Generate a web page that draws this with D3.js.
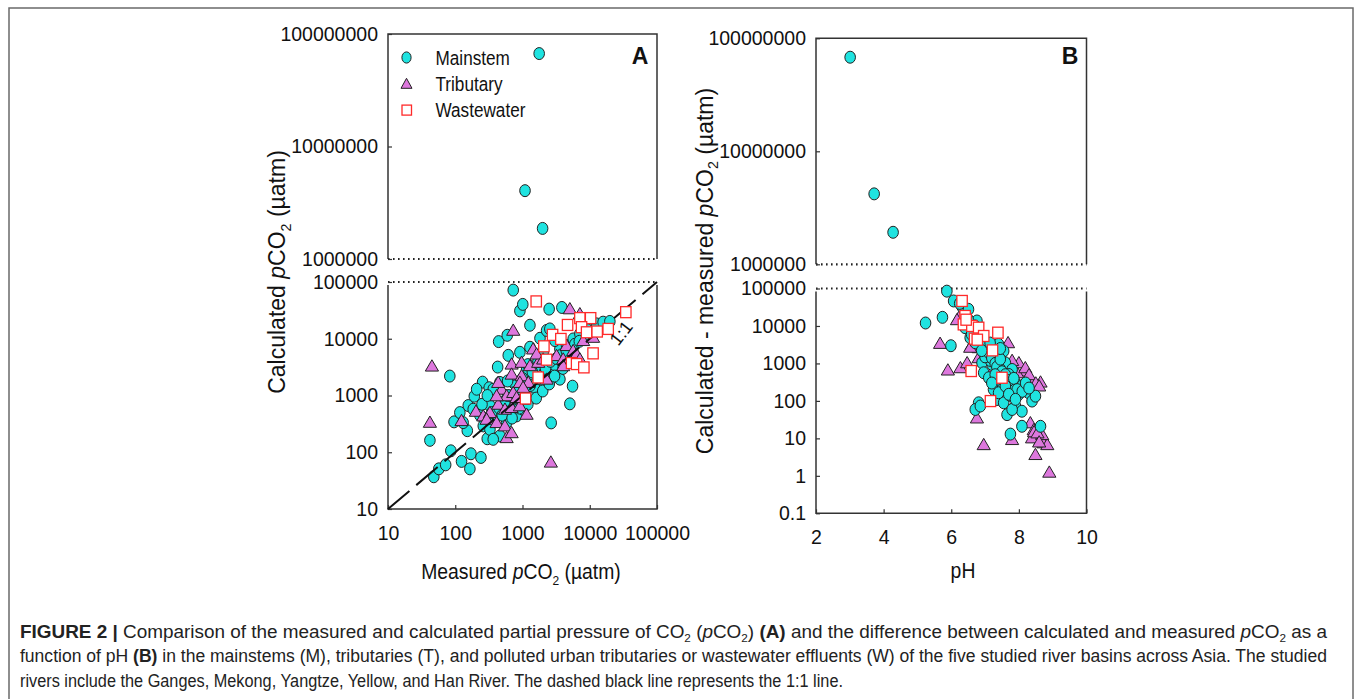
<!DOCTYPE html>
<html>
<head>
<meta charset="utf-8">
<script src="https://cdn.jsdelivr.net/npm/d3@7"></script>
<style>
  body { margin: 0; background: #fff; }
</style>
</head>
<body>
<svg id="fig" width="1357" height="699"></svg>
<script>
// ---- data ----
// panel A: [measured pCO2, calculated pCO2] in uatm
const mainA = [[42,162],[83,2200],[48,37],[57,51],[72,60],[86,106],[124,69],[165,51],[171,94],[241,81],[151,240],[96,343],[156,665],[192,972],[255,1720],[320,1370],[233,448],[299,173],[442,8910],[593,11500],[427,3170],[614,5100],[728,72000],[915,31000],[1010,40300],[1290,17300],[2490,33300],[3850,35600],[5550,1460],[5060,713],[2670,329],[915,5770],[1290,7080],[1820,10200],[2280,14000],[1150,2850],[461,1700],[367,1290],[328,658],[412,437],[581,333],[817,437],[1020,573],[581,752],[817,752],[1290,860],[1620,1130],[261,291],[328,253],[461,194],[367,169],[1150,2230],[1290,1940],[2550,2920],[3210,3350],[3600,6600],[4520,7580],[5670,9920],[7130,12200],[8970,14900],[12600,18300],[15800,19600],[19900,20200],[2550,14900],[3030,9290],[2030,5770],[728,1700],[915,1290],[185,573],[208,1290],[117,500],[3600,1940],[2280,2380],[1440,1130],[650,988],[131,333],[1820,1490],[700,600],[1100,1000],[1500,1400],[2000,2500],[3000,3500],[4000,4500],[5000,6000],[500,700],[400,520],
  [300,400],[350,500],[450,600],[550,800],[750,900],[850,1100],[950,1300],[1100,1600],[1300,1500],[1700,2000],[1900,2700],[2200,3000],[2600,4000],[3200,4500],[3800,5200],[4500,6000],[1400,2600],[1000,2000],[800,1500],[600,1000],[500,450],[700,400],[900,600],[1200,700],[1600,900],[2000,1200],[2500,1600],[3000,2200],[4000,3000],[6000,8000],[7000,9000],[9000,11000],[1700,4000],[1200,3500],[600,1800],[250,700],[300,1000],
  [1770,67000000],[1090,4050000],[1990,1870000]];
const tribA = [[45,3300],[42,337],[124,361],[728,14100],[2640,67],[203,527],[5060,33700],[7130,27500],[10000,22400],[689,3580],[970,3840],[1290,3350],[1710,3840],[689,2380],[970,2230],[1220,1700],[489,1290],[581,988],[728,1130],[1020,860],[435,701],[548,573],[689,614],[915,658],[1150,467],[261,437],[328,500],[293,381],[412,333],[548,291],[581,181],[689,221],[4520,7580],[5670,6180],[7980,9290],[11200,10600],[3210,5040],[4030,4390],[5060,3840],[1820,2230],[2280,1940],[4030,3350],[6370,5380],[7130,4390],[1440,6600],[1620,5380],[2030,4390],[915,1700],[1020,1390],[817,922],[412,988],[435,1700]];
const wasteA = [[1600,45500],[1110,885],[34400,29400],[7130,23100],[10300,23100],[4680,17500],[7550,16000],[8970,13000],[12900,13400],[18800,14900],[2800,11700],[3720,9920],[2080,7360],[11200,5530],[2280,4280],[5370,3730],[6370,3580],[8170,3130],[1710,2080]];

// panel B: [pH, calculated - measured pCO2]
const mainB = [[3.01,68000000],[3.72,4200000],[4.28,1920000],[5.24,12000],[5.74,17000],[5.99,2970],[5.87,85000],[6.07,46500],[6.32,32800],[6.51,27800],[6.41,9000],[6.61,8100],[6.76,13600],[6.91,5400],[6.56,4860],[6.71,3570],[7.01,2920],[7.21,2370],[7.40,3220],[7.06,1740],[7.30,1740],[7.55,2150],[6.91,1040],[7.21,940],[7.60,1040],[7.80,690],[6.96,564],[7.11,415],[7.40,374],[7.70,508],[7.90,305],[8.09,249],[8.29,165],[7.25,202],[7.50,202],[7.80,249],[7.99,148],[8.39,99],[8.49,134],[6.81,89],[6.71,59],[6.86,73],[7.35,109],[7.55,89],[7.65,43],[7.90,73],[8.09,53],[7.80,59],[8.09,21],[7.75,13],[8.64,21],[7.40,165],[7.16,1200],[7.45,700],[7.75,140],
  [7.0,1500],[7.1,2000],[7.2,1400],[7.3,1000],[7.35,800],[7.45,1300],[7.5,600],[7.6,500],[7.7,350],[7.85,400],[7.95,200],[8.1,180],[8.2,300],[8.3,220],[7.6,250],[7.7,150],[7.9,110],[7.45,2500],[7.15,3500],[6.9,2200],[6.6,6000],[6.7,10000],[6.5,15000],[6.25,40000],[7.3,500],[7.2,300]];
const tribB = [[5.67,3430],[5.90,667],[6.27,767],[6.47,1040],[6.22,16700],[7.68,3570],[6.61,3220],[6.81,2630],[6.81,1420],[8.14,627],[7.95,564],[8.39,338],[8.64,318],[6.76,35],[6.96,6.8],[7.80,9.3],[8.34,26],[8.44,17],[8.54,11.5],[8.64,9.3],[8.73,7.6],[8.84,6.8],[8.39,10.3],[8.69,12.6],[8.49,3.7],[8.90,1.25],[7.21,627],[8.00,1040],[8.19,767],[6.17,14700],[6.56,2700],[6.40,12000],
  [7.1,2000],[7.5,1500],[7.8,1200],[8.3,500],[8.5,300],[8.6,250],[8.45,15],[8.55,14],[8.6,8]];
const wasteB = [[6.32,46500],[6.41,18500],[6.36,11000],[6.61,10000],[6.81,9000],[6.69,4570],[7.38,6620],[7.22,2230],[6.59,627],[7.50,415],[7.16,99],[6.96,5400],[6.44,14700],[6.77,4300]];

const xTicksA = [10,100,1000,10000,100000];
const lowTicksA = [10,100,1000,10000,100000];
const highTicks = [1000000,10000000,100000000];
const xTicksB = [2,4,6,8,10];
const lowTicksB = [0.1,1,10,100,1000,10000,100000];
const legendLabels = ["Mainstem","Tributary","Wastewater"];

const captionLines = [
  [["FIGURE 2 | ","b"],["Comparison of the measured and calculated partial pressure of CO",""],["2","sub"],[" (",""],["p","i"],["CO",""],["2","sub"],[") ",""],["(A)","b"],[" and the difference between calculated and measured ",""],["p","i"],["CO",""],["2","sub"],[" as a",""]],
  [["function of pH ",""],["(B)","b"],[" in the mainstems (M), tributaries (T), and polluted urban tributaries or wastewater effluents (W) of the five studied river basins across Asia. The studied",""]],
  [["rivers include the Ganges, Mekong, Yangtze, Yellow, and Han River. The dashed black line represents the 1:1 line.",""]]
];

// ---- drawing ----
const font = '"Liberation Sans", Arial, Helvetica, sans-serif';
const colMain = "#1fe3e0", colTrib = "#dd77dd", colWaste = "#ff2a2a", ink = "#222";
const svg = d3.select("#fig");

svg.append("rect").attr("x", 9).attr("y", 8).attr("width", 1344).attr("height", 740)
  .attr("fill", "none").attr("stroke", "#6a6a6a").attr("stroke-width", 1.5);

function marks(g, kind, data, sx, sy) {
  data.forEach(d => {
    const cx = sx(d[0]), cy = sy(d[1]);
    if (kind === "circle") {
      g.append("ellipse").attr("cx", cx).attr("cy", cy).attr("rx", 5.3).attr("ry", 6)
        .attr("fill", colMain).attr("stroke", ink).attr("stroke-width", 1);
    } else if (kind === "tri") {
      g.append("path").attr("d", "M0,-6.3L6.6,5L-6.6,5Z").attr("transform", `translate(${cx},${cy})`)
        .attr("fill", colTrib).attr("stroke", ink).attr("stroke-width", 1);
    } else {
      g.append("rect").attr("x", cx - 5.2).attr("y", cy - 5.5).attr("width", 10.4).attr("height", 11)
        .attr("fill", "#fff").attr("stroke", colWaste).attr("stroke-width", 1.3);
    }
  });
}

// rich text with italic / bold / subscripts
function rich(t, segs, size) {
  let shifted = false;
  segs.forEach(([s, k]) => {
    const ts = t.append("tspan").text(s);
    if (k === "i") ts.attr("font-style", "italic");
    if (k === "b") ts.attr("font-weight", "bold");
    if (k === "sub") { ts.attr("font-size", size * 0.62).attr("dy", size * 0.25); shifted = true; }
    else if (shifted) { ts.attr("dy", -size * 0.25); shifted = false; }
  });
}

function panel(o) {
  const g = svg.append("g");
  const [xl, xr] = o.x.range();
  const [lb, lt] = o.yLo.range();
  const [hb, ht] = o.yHi.range();

  g.append("path").attr("d", `M${xl},${hb}V${ht}H${xr}V${hb}M${xl},${lt + 3}V${lb}H${xr}V${lt + 3}`)
    .attr("fill", "none").attr("stroke", "#333").attr("stroke-width", 1.5);
  g.append("path").attr("d", `M${xl},${hb}H${xr}M${xl},${lt}H${xr}`)
    .attr("fill", "none").attr("stroke", "#222").attr("stroke-width", 2.2).attr("stroke-dasharray", "1.6,3.4");

  const fmt = d => String(d);
  const axes = [
    g.append("g").attr("transform", `translate(${xl},0)`)
      .call(d3.axisLeft(o.yLo).tickValues(o.lowTicks).tickSize(-4).tickPadding(10).tickFormat(fmt)),
    g.append("g").attr("transform", `translate(${xl},0)`)
      .call(d3.axisLeft(o.yHi).tickValues(highTicks).tickSize(-4).tickPadding(10).tickFormat(fmt)),
    g.append("g").attr("transform", `translate(0,${lb})`)
      .call(d3.axisBottom(o.x).tickValues(o.xTicks).tickSize(-4).tickPadding(17).tickFormat(fmt))
  ];
  axes.forEach(a => {
    a.attr("font-size", 19.5).attr("font-family", font);
    a.select(".domain").remove();
    a.selectAll("line").attr("stroke", "#333").attr("stroke-width", 1.2);
    a.selectAll("text").attr("fill", "#111");
  });

  const sy = v => v >= 1000000 ? o.yHi(v) : o.yLo(v);
  o.order.forEach(([kind, data]) => {
    if (kind === "line") o.extra(g); else marks(g, kind, data, o.x, sy);
  });

  g.append("text").attr("x", o.letter[0]).attr("y", o.letter[1]).attr("text-anchor", "middle")
    .attr("font-family", font).attr("font-weight", "bold").attr("font-size", 23).attr("fill", "#111").text(o.name);

  const xt = g.append("text").attr("transform", `translate(${o.xTitle[0]},${o.xTitle[1]}) scale(0.88,1)`)
    .attr("text-anchor", "middle").attr("font-family", font).attr("font-size", 22).attr("fill", "#111");
  rich(xt, o.xLabel, 22);
  const yt = g.append("text").attr("transform", `translate(${o.yTitle[0]},${o.yTitle[1]}) rotate(-90)`)
    .attr("text-anchor", "middle").attr("font-family", font).attr("font-size", 23).attr("fill", "#111");
  rich(yt, o.yLabel, 23);
  return g;
}

// panel A
const xA = d3.scaleLog().domain([10, 100000]).range([388, 657]);
const yLoA = d3.scaleLog().domain([10, 100000]).range([509, 282]);
const yHiA = d3.scaleLog().domain([1000000, 100000000]).range([259, 34]);

const gA = panel({
  x: xA, yLo: yLoA, yHi: yHiA, lowTicks: lowTicksA, xTicks: xTicksA, name: "A", letter: [640, 64],
  xTitle: [521, 579], yTitle: [285, 272],
  xLabel: [["Measured ",""],["p","i"],["CO",""],["2","sub"],[" (\u00b5atm)",""]],
  yLabel: [["Calculated ",""],["p","i"],["CO",""],["2","sub"],[" (\u00b5atm)",""]],
  order: [["circle", mainA], ["tri", tribA], ["line"], ["square", wasteA]],
  extra: g => {
    g.append("line").attr("x1", xA(10)).attr("y1", yLoA(10)).attr("x2", xA(100000)).attr("y2", yLoA(100000))
      .attr("stroke", "#111").attr("stroke-width", 2).attr("stroke-dasharray", "28,9");
  }
});
gA.append("text").attr("transform", "translate(626,337) rotate(-52)").attr("text-anchor", "middle")
  .attr("font-family", font).attr("font-size", 18).attr("fill", "#111").text("1:1");

// legend
const legend = gA.append("g");
legendLabels.forEach((lab, i) => {
  const y = 57.5 + i * 26.3;
  if (i === 0) legend.append("ellipse").attr("cx", 406.5).attr("cy", y).attr("rx", 4.6).attr("ry", 5.6)
    .attr("fill", colMain).attr("stroke", ink);
  if (i === 1) legend.append("path").attr("d", "M0,-5.5L5.5,4.5L-5.5,4.5Z").attr("transform", `translate(406.5,${y})`)
    .attr("fill", colTrib).attr("stroke", ink);
  if (i === 2) legend.append("rect").attr("x", 402).attr("y", y - 5).attr("width", 9.5).attr("height", 10)
    .attr("fill", "#fff").attr("stroke", colWaste).attr("stroke-width", 1.3);
  legend.append("text").attr("transform", `translate(435.5,${y + 7}) scale(0.88,1)`)
    .attr("font-family", font).attr("font-size", 19.5).attr("fill", "#111").text(lab);
});

// panel B
const xB = d3.scaleLinear().domain([2, 10]).range([816, 1086.5]);
const yLoB = d3.scaleLog().domain([0.1, 100000]).range([513.3, 288.5]);
const yHiB = d3.scaleLog().domain([1000000, 100000000]).range([264.3, 38.3]);

panel({
  x: xB, yLo: yLoB, yHi: yHiB, lowTicks: lowTicksB, xTicks: xTicksB, name: "B", letter: [1070, 63.5],
  xTitle: [963, 578], yTitle: [712.5, 271],
  xLabel: [["pH",""]],
  yLabel: [["Calculated - measured ",""],["p","i"],["CO",""],["2","sub"],[" (\u00b5atm)",""]],
  order: [["tri", tribB], ["circle", mainB], ["square", wasteB]]
});

// caption (condensed face, squeezed to the measured line widths)
const capWidths = [1307, 1307, 823];
captionLines.forEach((segs, i) => {
  const t = svg.append("text").attr("x", 20).attr("y", 637.5 + i * 24.8)
    .attr("font-family", '"Liberation Sans Narrow", "Liberation Sans", Arial, sans-serif')
    .attr("font-size", 17.5).attr("fill", "#222")
    .attr("textLength", capWidths[i]).attr("lengthAdjust", "spacingAndGlyphs");
  rich(t, segs, 17.5);
});
</script>
</body>
</html>
